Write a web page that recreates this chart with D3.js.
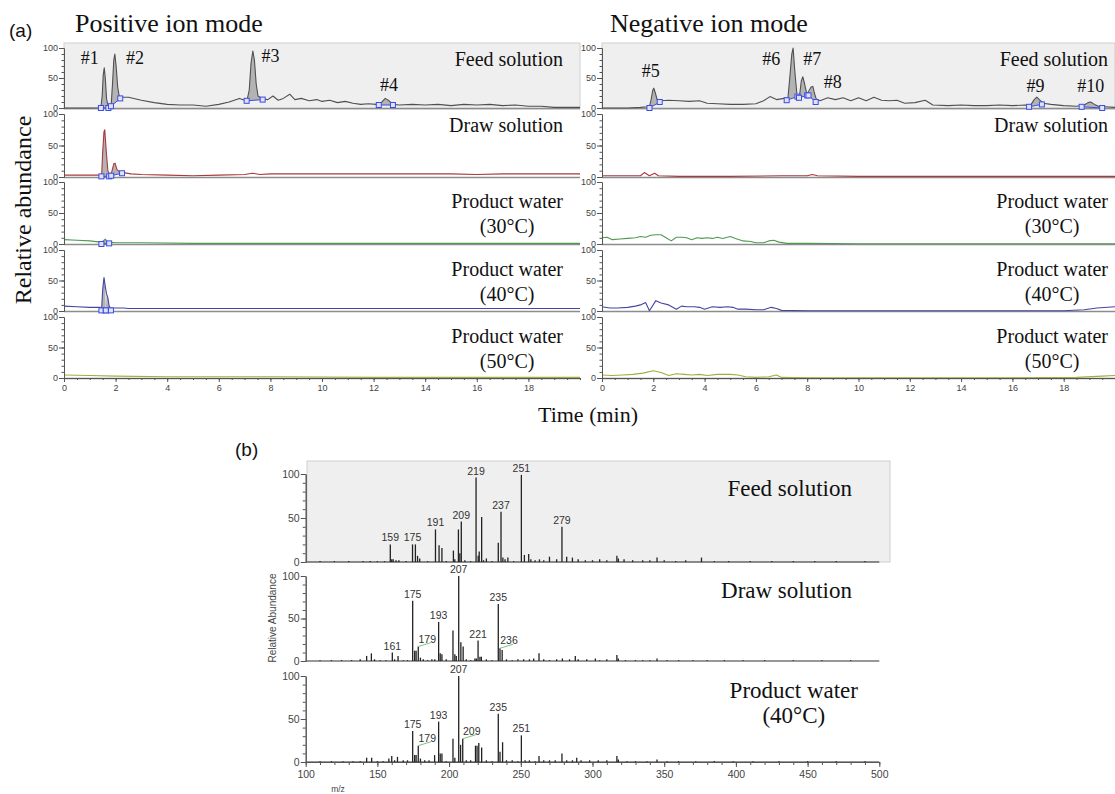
<!DOCTYPE html>
<html><head><meta charset="utf-8">
<script src="https://cdn.jsdelivr.net/npm/d3@7"></script>
<style>body{margin:0;background:#fff}svg{display:block}</style>
</head><body>
<script>
// ---------------- DATA ----------------
const timeTicks = [0,2,4,6,8,10,12,14,16,18];
const abundTicks = [0,50,100];
const mzTicks = [100,150,200,250,300,350,400,450,500];
const rowLabels = [["Feed solution"],["Draw solution"],["Product water","(30°C)"],["Product water","(40°C)"],["Product water","(50°C)"]];
const modeTitles = ["Positive ion mode","Negative ion mode"];

// chromatograms: [time(min), relative abundance]
const posFeed = [[0,0],[0.5,0],[1.0,0],[1.35,0.5],[1.43,1],[1.48,20],[1.52,55],[1.56,67],[1.6,50],[1.65,15],[1.72,2],[1.78,3],[1.83,6],[1.88,40],[1.93,80],[1.97,90],[2.02,70],[2.08,35],[2.14,20],[2.2,18],[2.5,18],[3.0,13],[3.5,9],[4.0,6],[4.5,5],[5.0,5],[5.5,3],[6.0,6],[6.4,10],[6.8,16],[7.0,13],[7.1,14],[7.18,30],[7.25,75],[7.32,95],[7.38,80],[7.45,40],[7.52,20],[7.7,15],[7.9,14],[8.1,20],[8.3,13],[8.5,16],[8.75,23],[8.95,14],[9.2,16],[9.5,12],[9.8,14],[10.0,11],[10.3,13],[10.6,9],[10.9,11],[11.2,8],[11.5,6],[11.8,7],[12.1,6],[12.3,9],[12.45,16],[12.6,12],[12.75,6],[13.0,5],[13.5,6],[14.0,5],[14.5,6],[15.0,4],[15.5,6],[16.0,5],[16.5,6],[17.0,4],[17.5,5],[18.0,3],[18.5,3],[19.0,1],[19.5,1],[20,1]];
const posDraw = [[0,3],[0.5,3],[1.0,3],[1.4,3],[1.46,4],[1.5,40],[1.55,72],[1.58,75],[1.63,45],[1.7,10],[1.78,3],[1.85,8],[1.93,21],[1.98,22],[2.05,12],[2.15,8],[2.3,7],[2.6,5],[3,4],[4,3],[5,2],[6,3],[7,4],[7.3,6],[7.6,4],[8,5],[9,5],[10,5],[11,5],[12,5],[13,5],[14,5],[15,5],[16,4],[17,5],[18,5],[19,5],[20,5]];
const pos30 = [[0,7],[0.5,6],[1,5],[1.4,3],[1.5,4],[1.6,8],[1.7,3],[2,2],[3,2],[5,1],[8,1],[12,1],[16,1],[20,1]];
const pos40 = [[0,8],[0.5,7],[1.0,6],[1.4,6],[1.46,5],[1.5,35],[1.55,55],[1.6,40],[1.65,28],[1.7,22],[1.75,8],[1.8,5],[1.9,5],[2.3,5],[2.5,4],[4,4],[8,4],[12,4],[16,4],[20,4]];
const pos50 = [[0,5],[1,4],[2,3],[4,2],[8,2],[12,1],[20,1]];
const negFeed = [[0,0],[1,0],[1.5,1],[1.8,2],[1.86,4],[1.92,15],[1.98,30],[2.02,33],[2.08,25],[2.15,14],[2.3,12],[2.6,13],[3.0,12],[3.4,11],[3.8,12],[4.1,8],[4.5,7],[5.0,6],[5.5,6],[6.0,7],[6.3,12],[6.55,19],[6.8,14],[7.1,16],[7.25,17],[7.32,50],[7.4,90],[7.45,100],[7.52,60],[7.6,22],[7.7,20],[7.77,45],[7.83,52],[7.9,40],[7.98,24],[8.05,27],[8.15,35],[8.22,36],[8.28,25],[8.35,15],[8.5,12],[8.8,17],[9.1,14],[9.4,17],[9.7,12],[10.0,17],[10.3,12],[10.6,18],[10.9,13],[11.2,12],[11.5,13],[11.8,8],[12.2,9],[12.6,13],[12.9,5],[13.5,4],[14,5],[14.5,4],[15,4],[15.5,5],[16,4],[16.5,5],[16.7,4],[16.85,14],[16.95,18],[17.05,14],[17.2,8],[17.5,6],[18,4],[18.5,3],[18.8,5],[18.95,9],[19.05,10],[19.2,6],[19.4,2],[19.6,2],[20,1]];
const negDraw = [[0,2],[1,2],[1.5,2],[1.65,7],[1.85,2],[2.05,6],[2.2,2],[3,1],[5,1],[7,2],[8,2],[8.2,4],[8.4,2],[10,1],[12,1],[14,1],[16,1],[18,1],[20,1]];
const neg30 = [[0,10],[0.2,11],[0.4,7],[0.7,8],[1.0,9],[1.3,10],[1.5,12],[1.7,11],[1.9,14],[2.1,15],[2.3,15],[2.5,10],[2.7,5],[2.9,11],[3.1,11],[3.3,10],[3.5,7],[3.7,10],[3.9,9],[4.1,10],[4.3,9],[4.5,11],[4.7,9],[5.0,12],[5.2,9],[5.5,5],[5.8,4],[6.0,2],[6.3,2],[6.5,5],[6.7,6],[6.9,3],[7.2,1],[8,1],[10,0.5],[12,0.5],[14,0.5],[16,0.5],[18,0.5],[20,0.5]];
const neg40 = [[0,7],[0.3,5],[0.6,5],[1.0,6],[1.3,8],[1.5,10],[1.7,14],[1.85,0.5],[2.1,17],[2.3,13],[2.6,10],[2.9,3],[3.1,8],[3.3,7],[3.6,7],[3.8,6],[4.0,3],[4.3,7],[4.6,6],[4.9,7],[5.1,6],[5.3,3],[5.6,3],[6.0,2],[6.3,2],[6.6,6],[6.8,4],[7.0,1],[8,0.5],[10,0.5],[14,0.5],[18,0.5],[18.8,2],[19.3,5],[20,7]];
const neg50 = [[0,5],[0.4,4],[0.8,5],[1.2,6],[1.6,8],[2.0,12],[2.3,9],[2.6,4],[2.9,7],[3.2,6],[3.5,5],[3.8,6],[4.1,4],[4.5,6],[5.0,6],[5.3,5],[5.6,2],[6.0,1],[6.5,2],[6.8,5],[7.0,1],[8,0.5],[12,0.5],[16,0.5],[18.5,1],[19.5,3],[20,4]];

// integrated peaks: [startTime, startValue, endTime, endValue]
const posFeedPeaks = [[1.43,0,1.72,0],[1.82,3,2.18,16],[7.08,12,7.7,14],[12.2,5,12.75,5]];
const posDrawPeaks = [[1.45,1,1.75,1],[1.83,2,2.25,6]];
const pos30Peaks = [[1.45,0,1.75,1]];
const pos40Peaks = [[1.45,1,1.62,1],[1.62,1,1.82,1]];
const negFeedPeaks = [[1.85,0,2.25,10],[7.2,13,7.62,19],[7.68,17,8.0,21],[8.05,21,8.33,10],[16.65,2,17.15,6],[18.7,2,19.5,0]];

// peak tags: [text, time, abundance]
const posTags = [["#1",1.0,73],["#2",2.75,73],["#3",8.0,77],["#4",12.6,28]];
const negTags = [["#5",1.9,51],["#6",6.6,71],["#7",8.2,71],["#8",9.0,33],["#9",16.9,26],["#10",19.05,26]];

// mass spectra: [m/z, relative abundance]
const feedSpec = [[110,1],[120,1],[130,1],[140,1],[145,1],[150,1],[155,1],[159,20],[160,3],[161,3],[163,2],[165,2],[170,1],[174.5,20],[176.5,20],[178,7],[179.5,4],[185,1],[190.5,37],[193,19],[195,16],[198,1],[203,13],[204,3],[206.5,37],[207.5,10],[208.5,46],[211,2],[215,1],[218.8,96],[220.3,7],[221,12],[222.7,51],[224,2],[226,4],[230,1],[234.3,22],[236.2,57],[237.5,5],[239,3],[241,5],[245,1],[250.4,99],[252.5,8],[255.5,9],[257,3],[260,2],[263,3],[266,2],[270,6],[275,3],[278.7,40],[282,6],[286,5],[290,3],[295,2],[300,2],[305,3],[310,2],[317,7],[318,4],[322,3],[328,2],[335,2],[340,2],[345,5],[350,2],[358,1],[365,2],[376,5],[385,1],[395,1],[410,1],[425,1],[440,1],[455,1],[470,1],[490,1]];
const drawSpec = [[110,1],[118,1],[125,1],[132,1],[138,2],[142.5,6],[145.8,9],[148,2],[152,1],[156,1],[160.4,10],[162,2],[164.4,6],[168,1],[171,1],[174.6,71],[176,12],[177,12],[178.5,17],[180,4],[182,2],[185,1],[188,2],[190,2],[192.7,46],[193.8,9],[195,8],[198,2],[202.7,36],[204,8],[205,6],[206.7,100],[208.2,22],[209.8,17],[212,2],[215,1],[218,3],[219,3],[220.2,24],[221.5,5],[222.5,5],[226,2],[230,1],[234.3,67],[235.5,15],[237,13],[240,2],[244,1],[248,2],[252,2],[256,2],[259,3],[262.7,9],[266,2],[270,1],[275,2],[279,3],[284,2],[288,6],[290,2],[296,2],[302,3],[305,1],[310,2],[317,7],[318,3],[323,1],[330,1],[335,1],[340,1],[345,3],[352,1],[360,1],[370,1],[380,1],[392,1],[405,1],[420,1],[440,1],[460,1],[480,1]];
const prodSpec = [[110,1],[118,1],[126,1],[133,1],[138,1],[142.5,5],[146,5],[150,1],[154,1],[158,4],[160,7],[162,2],[164,6],[168,2],[171,2],[174.6,36],[176,8],[177,8],[178.5,19],[180,4],[183,2],[186,2],[189.9,8],[192.7,47],[193.8,10],[195,10],[198,1],[202.7,27],[204,5],[206.7,100],[208,20],[209.5,27],[212,2],[215,2],[218.4,19],[219.5,19],[220.7,22],[222.7,17],[226,2],[230,1],[234.3,56],[235.5,12],[237.3,23],[240,2],[244,2],[248,1],[250.4,31],[253,2],[256,2],[260,1],[262.7,7],[266,2],[270,2],[274,2],[278.7,10],[282,2],[286,2],[289,5],[292,2],[298,2],[304,2],[310,2],[317,7],[318,3],[324,1],[330,1],[338,1],[345,3],[352,1],[360,1],[372,1],[385,1],[398,1],[412,1],[430,1],[450,1],[470,1],[490,1]];
// spectrum labels: [m/z of peak, text, offset label with leader]
const feedSpecLabels = [[159,"159"],[174.5,"175"],[190.5,"191"],[208.5,"209"],[218.8,"219"],[236.2,"237"],[250.4,"251"],[278.7,"279"]];
const drawSpecLabels = [[160.4,"161"],[174.6,"175"],[178.5,"179",true],[192.7,"193"],[206.7,"207"],[220.2,"221"],[234.3,"235"],[235.5,"236",true]];
const prodSpecLabels = [[174.6,"175"],[178.5,"179",true],[192.7,"193"],[206.7,"207"],[209.5,"209",true],[234.3,"235"],[250.4,"251"]];
const specTitles = [["Feed solution"],["Draw solution"],["Product water","(40°C)"]];

// ---------------- DRAW ----------------
const SERIF = "'Liberation Serif','Times New Roman',serif";
const SANS = "'Liberation Sans',Arial,sans-serif";
const svg = d3.select("body").append("svg").attr("width",1115).attr("height",794)
  .style("font-family",SANS);

const seriesColors = ["#505050","#a8393c","#4f9a4f","#46469e","#a3ad3e"];
const rowsA = [{y0:108,y1:48},{y0:177,y1:114},{y0:244,y1:182},{y0:311,y1:250},{y0:378,y1:317}];

function styleAxis(g, size){
  g.select(".domain").attr("stroke","#555");
  g.selectAll(".tick line").attr("stroke","#555");
  g.selectAll(".tick text").attr("fill","#444").style("font-size",size+"px").style("font-family",SANS);
}

const panels = [
  {x0:64,x1:580,series:[posFeed,posDraw,pos30,pos40,pos50],peaks:[posFeedPeaks,posDrawPeaks,pos30Peaks,pos40Peaks,[]],tags:posTags,title:modeTitles[0],titleX:75,labelR:563},
  {x0:602,x1:1115,series:[negFeed,negDraw,neg30,neg40,neg50],peaks:[negFeedPeaks,[],[],[],[]],tags:negTags,title:modeTitles[1],titleX:610,labelR:1108}
];

panels.forEach(p=>{
  const x = d3.scaleLinear().domain([0,20]).range([p.x0,p.x1]);
  svg.append("text").attr("x",p.titleX).attr("y",32).text(p.title)
    .style("font-family",SERIF).style("font-size","26px").attr("fill","#111");
  rowsA.forEach((r,i)=>{
    const y = d3.scaleLinear().domain([0,100]).range([r.y0,r.y1]);
    const g = svg.append("g");
    if(i===0){
      g.append("rect").attr("x",p.x0).attr("y",43).attr("width",p.x1-p.x0).attr("height",r.y0+1-43)
        .attr("fill","#efefef").attr("stroke","#cfcfcf");
    }
    g.append("line").attr("x1",p.x0).attr("x2",p.x1).attr("y1",r.y0+0.5).attr("y2",r.y0+0.5)
      .attr("stroke","#8c8c8c").attr("stroke-width",1.6);
    const line = d3.line().x(d=>x(d[0])).y(d=>y(d[1]));
    p.peaks[i].forEach(pk=>{
      const pts = [[pk[0],pk[1]], ...p.series[i].filter(d=>d[0]>pk[0]&&d[0]<pk[2]), [pk[2],pk[3]]];
      g.append("path").attr("d",line(pts)+"Z").attr("fill","#b3b3b3");
    });
    g.append("path").datum(p.series[i]).attr("d",line).attr("fill","none")
      .attr("stroke",seriesColors[i]).attr("stroke-width",1.1).attr("stroke-linejoin","round");
    p.peaks[i].forEach(pk=>{
      g.append("line").attr("x1",x(pk[0])).attr("y1",y(pk[1])).attr("x2",x(pk[2])).attr("y2",y(pk[3]))
        .attr("stroke","#3b4de0").attr("stroke-width",1);
      [[pk[0],pk[1]],[pk[2],pk[3]]].forEach(m=>{
        g.append("rect").attr("x",x(m[0])-2.5).attr("y",y(m[1])-2.5).attr("width",5).attr("height",5)
          .attr("fill","#dfe3ff").attr("stroke","#3b4de0").attr("stroke-width",1);
      });
    });
    const ya = g.append("g").attr("transform",`translate(${p.x0},0)`)
      .call(d3.axisLeft(y).tickValues(abundTicks).tickSize(5).tickSizeOuter(0).tickPadding(1));
    styleAxis(ya,9);
    const ym = g.append("g").attr("transform",`translate(${p.x0},0)`)
      .call(d3.axisLeft(y).tickValues(d3.range(0,101,10)).tickSize(2.5).tickSizeOuter(0).tickFormat(""));
    styleAxis(ym,9);
    const lab = rowLabels[i];
    if(lab.length===1){
      g.append("text").attr("x",p.labelR).attr("y",r.y1+18).attr("text-anchor","end").text(lab[0])
        .style("font-family",SERIF).style("font-size","20px").attr("fill","#111");
    } else {
      const t1 = g.append("text").attr("x",p.labelR).attr("y",r.y1+26).attr("text-anchor","end").text(lab[0])
        .style("font-family",SERIF).style("font-size","20px").attr("fill","#111");
      const w = t1.node().getComputedTextLength();
      g.append("text").attr("x",p.labelR - w/2).attr("y",r.y1+51).attr("text-anchor","middle").text(lab[1])
        .style("font-family",SERIF).style("font-size","20px").attr("fill","#111");
    }
    if(i===0){
      p.tags.forEach(t=>{
        g.append("text").attr("x",x(t[1])).attr("y",y(t[2])).attr("text-anchor","middle").text(t[0])
          .style("font-family",SERIF).style("font-size","18px").attr("fill","#111");
      });
    }
  });
  const yb = rowsA[4].y0;
  const xa = svg.append("g").attr("transform",`translate(0,${yb})`)
    .call(d3.axisBottom(x).tickValues(timeTicks).tickSize(4).tickSizeOuter(0).tickPadding(3));
  styleAxis(xa,9);
  const xmn = svg.append("g").attr("transform",`translate(0,${yb})`)
    .call(d3.axisBottom(x).tickValues(d3.range(0,20.01,0.5)).tickSize(2).tickSizeOuter(0).tickFormat(""));
  styleAxis(xmn,9);
});

svg.append("text").attr("x",9).attr("y",37).text("(a)").style("font-size","19px").attr("fill","#111");
svg.append("text").attr("transform","translate(31,210) rotate(-90)").attr("text-anchor","middle")
  .text("Relative abundance").style("font-family",SERIF).style("font-size","24px").attr("fill","#111");
svg.append("text").attr("x",588).attr("y",422).attr("text-anchor","middle").text("Time (min)")
  .style("font-family",SERIF).style("font-size","22px").attr("fill","#111");

// ---------- panel (b) ----------
svg.append("text").attr("x",235).attr("y",456).text("(b)").style("font-size","19px").attr("fill","#111");
const xm = d3.scaleLinear().domain([100,500]).range([305.7,879.3]);
const rowsB = [{y0:562,y1:474},{y0:661,y1:576},{y0:762,y1:676}];
const specs = [[feedSpec,feedSpecLabels],[drawSpec,drawSpecLabels],[prodSpec,prodSpecLabels]];
specs.forEach((s,i)=>{
  const r = rowsB[i];
  const y = d3.scaleLinear().domain([0,100]).range([r.y0,r.y1]);
  const g = svg.append("g");
  if(i===0){
    g.append("rect").attr("x",307).attr("y",461).attr("width",583).attr("height",r.y0-461)
      .attr("fill","#efefef").attr("stroke","#cfcfcf");
  }
  g.append("line").attr("x1",xm(100)).attr("x2",xm(500)).attr("y1",r.y0).attr("y2",r.y0)
    .attr("stroke","#333").attr("stroke-width",1.2);
  g.selectAll("line.bar").data(s[0]).enter().append("line").attr("class","bar")
    .attr("x1",d=>xm(d[0])).attr("x2",d=>xm(d[0])).attr("y1",r.y0).attr("y2",d=>y(d[1]))
    .attr("stroke","#222").attr("stroke-width",1.3);
  s[1].forEach(l=>{
    const pk = s[0].find(d=>d[0]===l[0]);
    const bx = xm(l[0]), by = y(pk[1]);
    if(l[2]){
      g.append("line").attr("x1",bx).attr("y1",by).attr("x2",bx+13).attr("y2",by-4)
        .attr("stroke","#7cc47c").attr("stroke-width",1);
      g.append("text").attr("x",bx+9).attr("y",by-4).attr("text-anchor","middle").text(l[1])
        .style("font-size","10.5px").attr("fill","#333");
    } else {
      g.append("text").attr("x",bx).attr("y",by-3).attr("text-anchor","middle").text(l[1])
        .style("font-size","10.5px").attr("fill","#333");
    }
  });
  const ya = g.append("g").attr("transform",`translate(${xm(100)},0)`)
    .call(d3.axisLeft(y).tickValues(abundTicks).tickSize(5).tickSizeOuter(0).tickPadding(1));
  styleAxis(ya,10.5);
  const ym = g.append("g").attr("transform",`translate(${xm(100)},0)`)
    .call(d3.axisLeft(y).tickValues(d3.range(0,101,10)).tickSize(3).tickSizeOuter(0).tickFormat(""));
  styleAxis(ym,10);
  const lab = specTitles[i];
  if(lab.length===1){
    g.append("text").attr("x",852).attr("y",r.y1+22).attr("text-anchor","end").text(lab[0])
      .style("font-family",SERIF).style("font-size","23px").attr("fill","#111");
  } else {
    const t1 = g.append("text").attr("x",858).attr("y",r.y1+22).attr("text-anchor","end").text(lab[0])
      .style("font-family",SERIF).style("font-size","23px").attr("fill","#111");
    const w = t1.node().getComputedTextLength();
    g.append("text").attr("x",858-w/2).attr("y",r.y1+47).attr("text-anchor","middle").text(lab[1])
      .style("font-family",SERIF).style("font-size","23px").attr("fill","#111");
  }
});
const xba = svg.append("g").attr("transform",`translate(0,${rowsB[2].y0})`)
  .call(d3.axisBottom(xm).tickValues(mzTicks).tickSize(5).tickSizeOuter(0).tickPadding(4));
styleAxis(xba,10.5);
const xbm = svg.append("g").attr("transform",`translate(0,${rowsB[2].y0})`)
  .call(d3.axisBottom(xm).tickValues(d3.range(100,501,10)).tickSize(3).tickSizeOuter(0).tickFormat(""));
styleAxis(xbm,10);
svg.append("text").attr("x",338).attr("y",792).attr("text-anchor","middle").text("m/z")
  .style("font-size","8.5px").attr("fill","#444");
svg.append("text").attr("transform","translate(276,618) rotate(-90)").attr("text-anchor","middle")
  .text("Relative Abundance").style("font-size","10px").attr("fill","#444");
</script>
</body></html>
